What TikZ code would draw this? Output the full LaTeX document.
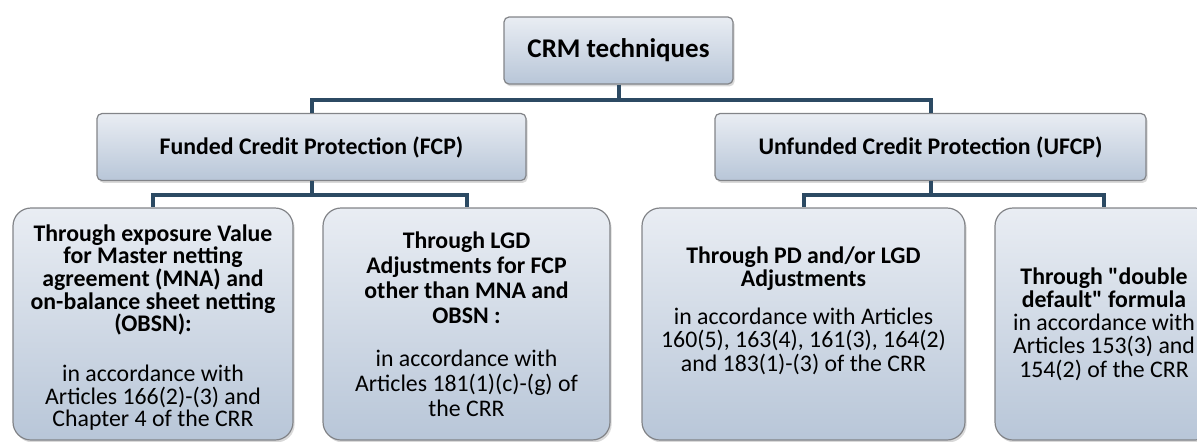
\documentclass[tikz,border=0pt]{standalone}
\usepackage{fontspec}
\setmainfont{Carlito}
\usepackage{tikz}
\usetikzlibrary{positioning}
\usetikzlibrary{shadows}
\definecolor{linkblue}{RGB}{44,74,99}
\definecolor{boxtop}{RGB}{233,237,243}
\definecolor{boxbot}{RGB}{184,198,216}
\definecolor{boxline}{RGB}{130,132,136}

\begin{document}
\begin{tikzpicture}[
    x=0.5pt, y=-0.5pt,                 % one unit is one pixel of the layout
    node distance=48.25pt and 153.5pt, % Global setup of box spacing
    ]
% -------------------------------------------------
\tikzset{
  base/.style={draw=boxline, line width=0.6pt, on grid, align=center,
    top color=boxtop, bottom color=boxbot,
    drop shadow={shadow xshift=0.8pt, shadow yshift=-1.2pt, opacity=0.3},
    font=\fontsize{11.9}{11.7}\selectfont},
  head/.style={base, rectangle, rounded corners=2.5pt, minimum height=33.5pt,
    font=\fontsize{11.9}{11.7}\selectfont\bfseries},
  leaf/.style={base, rectangle, rounded corners=9pt, minimum height=116pt},
  line/.style={draw=linkblue, line width=2pt}
}
\useasboundingbox (0,0) rectangle (1197,441);
% -------------------------------------------------
% Placing the nodes

\node [head, minimum width=114.5pt, font=\fontsize{13.5}{14}\selectfont\bfseries] (crm) at (618.5,50.5) {CRM techniques};
\node [head, minimum width=214.5pt, below left=of crm] (fcp) {Funded Credit Protection (FCP)};
\node [head, minimum width=215.5pt, below right=48.25pt and 156pt of crm] (ufcp) {Unfunded Credit Protection (UFCP)};

\node [leaf, minimum width=140pt, text depth=0pt, font=\fontsize{11.9}{11.35}\selectfont,
       below left=88.5pt and 79.25pt of fcp] (exv)
  {\rule{0pt}{10pt}\textbf{Through exposure Value}\\ \textbf{for Master netting}\\ \textbf{agreement (MNA) and}\\
   \textbf{on-balance sheet netting}\\ \textbf{(OBSN):}\\[13.5pt]
   in accordance with\\ Articles 166(2)-(3) and\\ Chapter 4 of the CRR};
\node [leaf, minimum width=143.5pt, font=\fontsize{11.9}{12.5}\selectfont,
       below right=88.5pt and 77.5pt of fcp] (lgd)
  {\textbf{Through LGD}\\ \textbf{Adjustments for FCP}\\ \textbf{other than MNA and}\\ \textbf{OBSN :}\\[9pt]
   in accordance with\\ Articles 181(1)(c)-(g) of\\ the CRR};
\node [leaf, minimum width=161.5pt, text depth=15pt, font=\fontsize{11.9}{11.75}\selectfont,
       below left=88.5pt and 63.5pt of ufcp] (pdl)
  {\textbf{Through PD and/or LGD}\\ \textbf{Adjustments}\\[7pt]
   in accordance with Articles\\ 160(5), 163(4), 161(3), 164(2)\\ and 183(1)-(3) of the CRR};
\node [leaf, minimum width=109pt, font=\fontsize{11.9}{11.6}\selectfont,
       below right=88.5pt and 86.75pt of ufcp] (dd)
  {\textbf{Through \textquotedbl double}\\ \textbf{default\textquotedbl{} formula}\\
   in accordance with\\ Articles 153(3) and\\ 154(2) of the CRR};

\path [line] (crm.south) -- ++(0,15) -| (fcp.north);
\path [line] (crm.south) -- ++(0,15) -| (ufcp.north);
\path [line] (fcp.south) -- ++(0,14) -| (exv.north);
\path [line] (fcp.south) -- ++(0,14) -| (lgd.north);
\path [line] (ufcp.south) -- ++(0,14) -| (pdl.north);
\path [line] (ufcp.south) -- ++(0,14) -| (dd.north);

\end{tikzpicture}
\end{document}
